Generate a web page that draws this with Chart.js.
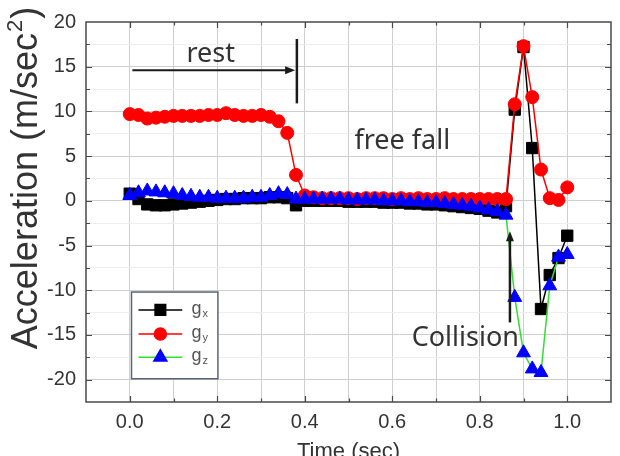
<!DOCTYPE html>
<html><head><meta charset="utf-8">
<script src="https://cdn.jsdelivr.net/npm/chart.js@4.4.0/dist/chart.umd.min.js"></script>
<style>html,body{margin:0;padding:0;background:#fff;}</style>
</head><body>
<canvas id="c" width="620" height="456"></canvas>
<script>
const time = [0.00,0.02,0.04,0.06,0.08,0.10,0.12,0.14,0.16,0.18,0.20,0.22,0.24,0.26,0.28,0.30,0.32,0.34,0.36,0.38,0.40,0.42,0.44,0.46,0.48,0.50,0.52,0.54,0.56,0.58,0.60,0.62,0.64,0.66,0.68,0.70,0.72,0.74,0.76,0.78,0.80,0.82,0.84,0.86,0.88,0.90,0.92,0.94,0.96,0.98,1.00];
const gx = [0.8,0.2,-0.4,-0.5,-0.5,-0.4,-0.3,-0.2,-0.1,0.0,0.1,0.2,0.2,0.3,0.3,0.3,0.4,0.4,0.3,-0.5,0.0,0.0,0.0,0.0,0.0,-0.1,-0.1,-0.1,-0.1,-0.2,-0.2,-0.2,-0.3,-0.3,-0.4,-0.4,-0.5,-0.6,-0.7,-0.8,-0.9,-1.1,-1.3,-0.6,10.2,17.2,5.9,-12.1,-8.3,-6.4,-3.9];
const gy = [9.7,9.6,9.2,9.3,9.4,9.5,9.5,9.5,9.5,9.6,9.6,9.8,9.6,9.5,9.5,9.6,9.4,8.9,7.6,2.9,0.6,0.4,0.3,0.3,0.3,0.3,0.2,0.3,0.3,0.3,0.2,0.3,0.2,0.3,0.2,0.2,0.3,0.2,0.2,0.2,0.2,0.2,0.2,0.2,10.8,17.3,11.6,3.5,0.3,0.1,1.5];
const gz = [0.6,0.9,1.1,1.0,0.9,0.8,0.6,0.5,0.4,0.4,0.3,0.3,0.3,0.3,0.4,0.4,0.6,0.8,0.7,0.2,0.2,0.2,0.2,0.2,0.2,0.1,0.1,0.1,0.1,0.0,0.0,0.0,-0.1,-0.1,-0.2,-0.2,-0.3,-0.4,-0.5,-0.6,-0.8,-1.0,-1.2,-1.6,-10.8,-17.0,-18.8,-19.2,-9.5,-6.3,-6.0];
const seriesNames = ['x','y','z'];
const xTickLabels = ['0.0','0.2','0.4','0.6','0.8','1.0'];
const yTickLabels = ['-20','-15','-10','-5','0','5','10','15','20'];
const yTitle = 'Acceleration (m/sec';
const xTitle = 'Time (sec)';
const notes = [
  {text:'rest', x:0.185, y:15.5},
  {text:'free fall', x:0.623, y:5.75},
  {text:'Collision', x:0.767, y:-16.2}
];

const pts = arr => arr.map((v,i)=>({x:time[i], y:v}));
const TXT = '#333';
const FONT = "'Liberation Sans', Arial, sans-serif";

const decor = {
  id:'decor',
  afterDatasetsDraw(chart){
    const ctx = chart.ctx, a = chart.chartArea, xs = chart.scales.x, ys = chart.scales.y;
    ctx.save();
    // frame
    ctx.strokeStyle = '#4a4a4a'; ctx.lineWidth = 1.5;
    ctx.strokeRect(a.left, a.top, a.right-a.left, a.bottom-a.top);
    // inward ticks
    ctx.lineWidth = 1.2;
    xs.ticks.forEach(t=>{
      if (t.value <= xs.min+1e-9 || t.value >= xs.max-1e-9) return;
      const p = Math.round(xs.getPixelForValue(t.value))+0.5;
      const L = xTickLabels.includes(t.value.toFixed(1)) ? 6 : 3.5;
      ctx.beginPath(); ctx.moveTo(p,a.bottom); ctx.lineTo(p,a.bottom-L);
      ctx.moveTo(p,a.top); ctx.lineTo(p,a.top+L); ctx.stroke();
    });
    ys.ticks.forEach(t=>{
      if (t.value <= ys.min+1e-9 || t.value >= ys.max-1e-9) return;
      const p = Math.round(ys.getPixelForValue(t.value))+0.5;
      const L = yTickLabels.includes(String(t.value)) ? 6 : 4;
      ctx.beginPath(); ctx.moveTo(a.left,p); ctx.lineTo(a.left+L,p);
      ctx.moveTo(a.right,p); ctx.lineTo(a.right-L,p); ctx.stroke();
    });
    const X = v=>xs.getPixelForValue(v), Y = v=>ys.getPixelForValue(v);
    // arrows
    ctx.strokeStyle = '#1a1a1a'; ctx.fillStyle = '#1a1a1a';
    function arrow(x1,y1,x2,y2,w){
      const ang = Math.atan2(y2-y1,x2-x1), hl=10, hw=4;
      ctx.lineWidth = w;
      ctx.beginPath(); ctx.moveTo(x1,y1);
      ctx.lineTo(x2-Math.cos(ang)*hl*0.8, y2-Math.sin(ang)*hl*0.8); ctx.stroke();
      ctx.beginPath(); ctx.moveTo(x2,y2);
      ctx.lineTo(x2-Math.cos(ang)*hl-Math.sin(ang)*hw, y2-Math.sin(ang)*hl+Math.cos(ang)*hw);
      ctx.lineTo(x2-Math.cos(ang)*hl+Math.sin(ang)*hw, y2-Math.sin(ang)*hl-Math.cos(ang)*hw);
      ctx.closePath(); ctx.fill();
    }
    arrow(X(0.006),Y(14.6),X(0.378),Y(14.6),2);
    ctx.lineWidth = 2.5;
    ctx.beginPath(); ctx.moveTo(X(0.382),Y(18.1)); ctx.lineTo(X(0.382),Y(10.9)); ctx.stroke();
    arrow(X(0.869),Y(-13.6),X(0.869),Y(-3.4),2.5);
    // notes
    ctx.fillStyle = TXT; ctx.textAlign='center'; ctx.textBaseline='alphabetic';
    ctx.font = "27px 'Noto Sans', sans-serif";
    notes.forEach(n=>ctx.fillText(n.text, X(n.x), Y(n.y)));
    // legend
    const bx1=X(0.004), bx2=X(0.2015), by1=Y(-10.2), by2=Y(-19.9);
    ctx.fillStyle='#fff'; ctx.fillRect(bx1,by1,bx2-bx1,by2-by1);
    ctx.strokeStyle='#5a6478'; ctx.lineWidth=1.5; ctx.strokeRect(bx1,by1,bx2-bx1,by2-by1);
    const rows=[-12.2,-14.9,-17.5];
    chart.data.datasets.forEach((ds,i)=>{
      const yy=Y(rows[i]);
      ctx.strokeStyle=ds.borderColor; ctx.lineWidth=1.5;
      ctx.beginPath(); ctx.moveTo(X(0.02),yy); ctx.lineTo(X(0.12),yy); ctx.stroke();
      ctx.fillStyle=ds.pointBackgroundColor; ctx.strokeStyle=ds.pointBorderColor;
      Chart.helpers.drawPoint(ctx,{pointStyle:ds.pointStyle,radius:ds.pointRadius-0.5,rotation:0,borderWidth:1},X(0.07),yy);
      ctx.fillStyle='#555'; ctx.textAlign='left'; ctx.textBaseline='alphabetic';
      ctx.font = "18px "+FONT;
      ctx.fillText('g', X(0.141), yy+4);
      const gw = ctx.measureText('g').width;
      ctx.font = "11px "+FONT;
      ctx.fillText(seriesNames[i], X(0.141)+gw+1, yy+7);
    });
    // x title
    ctx.fillStyle = TXT; ctx.textAlign='center'; ctx.textBaseline='alphabetic';
    ctx.font = "22px "+FONT;
    ctx.fillText(xTitle, (a.left+a.right)/2, 458);
    // y title
    ctx.save();
    ctx.translate(37, 179);
    ctx.rotate(-Math.PI/2);
    ctx.fillStyle = TXT;
    ctx.font = "36px "+FONT;
    const w1 = ctx.measureText(yTitle).width;
    ctx.font = "22px "+FONT;
    const w2 = ctx.measureText('2').width;
    ctx.font = "36px "+FONT;
    const w3 = ctx.measureText(')').width;
    const start = -(w1+w2+w3)/2;
    ctx.textAlign='left'; ctx.textBaseline='alphabetic';
    ctx.fillText(yTitle, start, 0);
    ctx.font = "22px "+FONT;
    ctx.fillText('2', start+w1+1, -15);
    ctx.font = "36px "+FONT;
    ctx.fillText(')', start+w1+w2+2, 0);
    ctx.restore();
    ctx.restore();
  }
};

new Chart(document.getElementById('c'), {
  type:'line',
  data:{datasets:[
    {label:'gx', data:pts(gx), borderColor:'#000', backgroundColor:'#000', pointBackgroundColor:'#000', pointBorderColor:'#000', pointStyle:'rect', pointRadius:8, borderWidth:1.5, pointBorderWidth:1, tension:0, order:3},
    {label:'gy', data:pts(gy), borderColor:'#ff0000', backgroundColor:'#ff0000', pointBackgroundColor:'#ff0000', pointBorderColor:'#ff0000', pointStyle:'circle', pointRadius:6.5, borderWidth:1.5, pointBorderWidth:1, tension:0, order:2},
    {label:'gz', data:pts(gz), borderColor:'#33dd33', backgroundColor:'#0000ff', pointBackgroundColor:'#0000ff', pointBorderColor:'#0000ff', pointStyle:'triangle', pointRadius:8, borderWidth:1.5, pointBorderWidth:1, tension:0, order:1}
  ]},
  options:{
    responsive:false, animation:false, devicePixelRatio:1,
    layout:{padding:{top:18,right:8,left:0,bottom:0}},
    plugins:{legend:{display:false}, tooltip:{enabled:false}},
    scales:{
      x:{type:'linear', min:-0.1, max:1.1,
        afterFit(s){ s.height = 54; },
        ticks:{stepSize:0.1, autoSkip:false, maxRotation:0, padding:8, color:TXT,
          font:{family:FONT, size:20},
          callback(v){ const s=(+v).toFixed(1); return xTickLabels.includes(s)?s:''; }},
        grid:{drawTicks:false, lineWidth:1,
          color(c){ const v=c.tick.value; if (v<=-0.099||v>=1.099) return 'rgba(0,0,0,0)'; return '#cfcfcf'; }},
        border:{display:false}
      },
      y:{min:-22.5, max:20,
        afterFit(s){ s.width = 86; },
        ticks:{stepSize:2.5, autoSkip:false, padding:10, color:TXT,
          font:{family:FONT, size:20},
          callback(v){ const s=String(+v); return yTickLabels.includes(s)?s:''; }},
        grid:{drawTicks:false, lineWidth:1,
          color(c){ const v=c.tick.value; if (v<=-22.49||v>=19.99) return 'rgba(0,0,0,0)'; return (Math.abs(v%5)<1e-6)?'#cfcfcf':'#eeeeee'; }},
        border:{display:false}
      }
    }
  },
  plugins:[decor]
});
</script>
</body></html>
